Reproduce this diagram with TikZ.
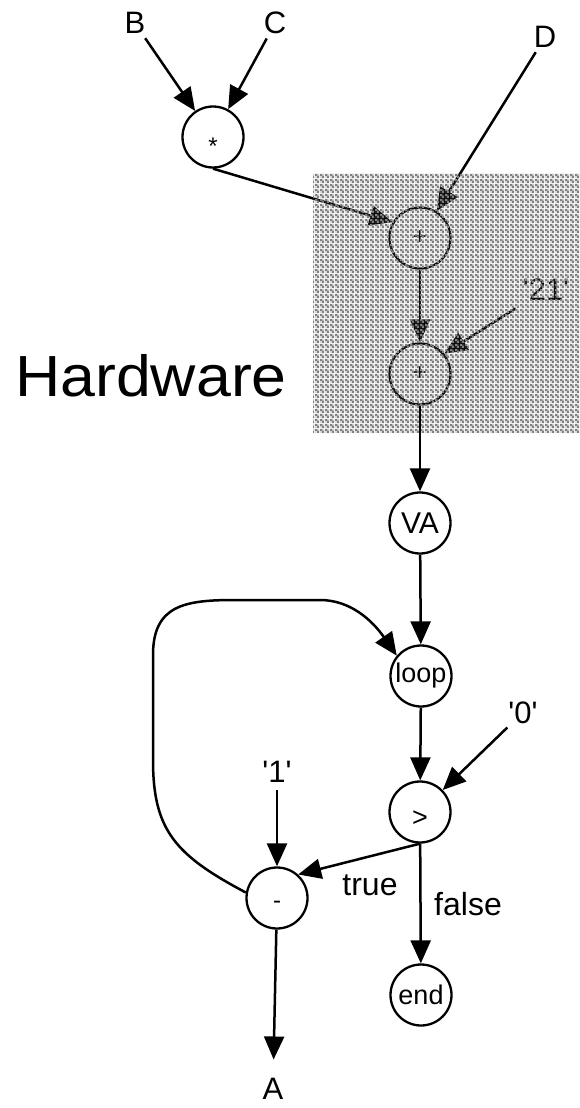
\documentclass[tikz,border=0pt]{standalone}
\usepackage{fontspec}
\setmainfont{Liberation Sans}[Ligatures=TeXOff]
\usetikzlibrary{arrows.meta,patterns}
\pgfdeclarepatternformonly{hwchecks}{\pgfpointorigin}{\pgfqpoint{5pt}{5pt}}{\pgfqpoint{5pt}{5pt}}{%
  \pgfseteorule
  \pgfpathrectangle{\pgfpointorigin}{\pgfqpoint{5pt}{5pt}}%
  \pgfpathrectangle{\pgfqpoint{0.25pt}{0.25pt}}{\pgfqpoint{2pt}{2pt}}%
  \pgfpathrectangle{\pgfqpoint{2.75pt}{2.75pt}}{\pgfqpoint{2pt}{2pt}}%
  \pgfusepath{fill}}
\begin{document}
\begin{tikzpicture}[x=1pt,y=-1pt,
  op/.style={circle, draw, line width=2.3pt, minimum size=61pt, inner sep=0pt, fill=white,
    font=\fontsize{27}{27}\selectfont},
  lab/.style={font=\fontsize{31}{31}\selectfont, inner sep=4pt, anchor=base},
  arr/.style={line width=2.5pt, -{Triangle[length=23pt,width=20pt]}},
  ln/.style={line width=2.5pt}]
\useasboundingbox (0,0) rectangle (580,1108);

% labels
\node[lab] (B) at (135,34) {B};
\node[lab] (C) at (275,34) {C};
\node[lab] (D) at (545,48) {D};
\node[lab] (t21) at (546,300) {'21'};
\node[lab] (zero) at (523,723) {'0'};
\node[lab] (one) at (277,782) {'1'};
\node[lab] (A) at (273,1099) {A};
\node[lab, font=\fontsize{32}{32}\selectfont] (truelab) at (370,895) {true};
\node[lab, font=\fontsize{32}{32}\selectfont] (falselab) at (468,915) {false};
\node[anchor=base, xscale=1.08, font=\fontsize{58}{58}\selectfont] (hw) at (151,396) {Hardware};

% operator nodes
\node[op, font=\fontsize{24}{24}\selectfont, text height=34pt, text depth=0pt] (star) at (213,137) {*};
\node[op, font=\fontsize{24}{24}\selectfont] (p1) at (420,238) {+};
\node[op, font=\fontsize{24}{24}\selectfont] (p2) at (420,374) {+};
\node[op, font=\fontsize{30}{30}\selectfont] (va) at (420,523) {VA};
\node[op] (loop) at (421,676) {loop};
\node[op, text height=29pt, text depth=0pt] (gt) at (420,812) {>};
\node[op, font=\fontsize{24}{24}\selectfont, text height=21pt, text depth=0pt] (minus) at (277,898) {-};
\node[op] (end) at (421,995) {end};

% connectors (upper, under the hardware overlay)
\draw[arr] (B) -- (star);
\draw[arr] (C) -- (star);
\draw[arr] (star.south) -- (p1.150);
\draw[arr] (D) -- (p1);
\draw[arr] (p1) -- (p2);
\draw[arr, shorten <=8pt] (t21) -- (p2.40);

% hardware overlay
\fill[pattern=hwchecks, pattern color=gray] (313,173) rectangle (580,432);

% remaining connectors
\draw[arr] (p2) -- (va);
\draw[arr] (va) -- (loop);
\draw[arr] (loop) -- (gt);
\draw[arr] (zero) -- (gt);
\draw[arr] (gt) -- (end);
\draw[arr] (gt.south) -- (minus.48);
\draw[arr, shorten <=4pt] (one) -- (minus);
\draw[arr, shorten >=14pt] (minus) -- (A);
\draw[arr] (minus.170) .. controls (175,855) and (153,830) .. (153,760)
  -- (153,655) .. controls (153,605) and (185,600) .. (235,600)
  -- (320,600) .. controls (350,600) and (372,620) .. (loop.140);
\end{tikzpicture}
\end{document}
